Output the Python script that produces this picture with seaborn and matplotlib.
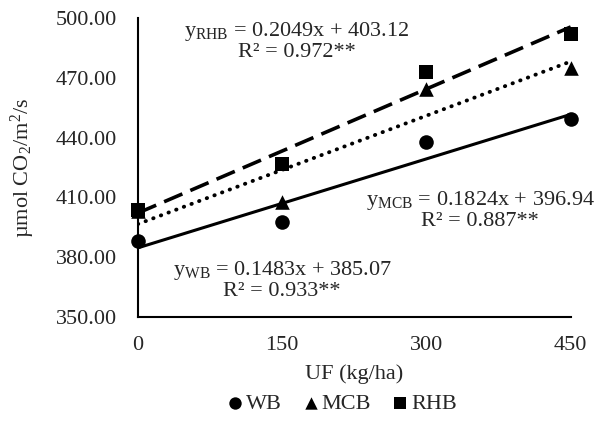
import numpy as np
import pandas as pd
import matplotlib.pyplot as plt
import seaborn as sns
sns.set_style('white')
plt.rcParams['font.family'] = ['Liberation Serif', 'DejaVu Serif']
plt.rcParams['mathtext.fontset'] = 'custom'
plt.rcParams['mathtext.rm'] = 'Liberation Serif'
plt.rcParams['mathtext.it'] = 'Liberation Serif:italic'

uf = [0, 150, 300, 450]
wb = [388.2, 397.5, 437.8, 449.1]
mcb = [403.0, 407.6, 464.2, 474.7]
rhb = [403.5, 426.9, 473.0, 491.8]
series = ['WB', 'MCB', 'RHB']
equations = ['y$_{\\mathregular{WB}}$ = 0.1483x + 385.07\nR² = 0.933**',
             'y$_{\\mathregular{MCB}}$ = 0.1824x + 396.94\nR² = 0.887**',
             'y$_{\\mathregular{RHB}}$ = 0.2049x + 403.12\nR² = 0.972**']

df = pd.DataFrame({'UF': uf * 3, 'rate': wb + mcb + rhb,
                   'group': [s for s in series for _ in uf]})

fig = plt.figure(figsize=(5.97, 4.25), dpi=100)
ax = fig.add_axes([0.231, 0.254, 0.725, 0.704])

markers = {'WB': 'o', 'MCB': '^', 'RHB': 's'}
styles = {'WB': dict(ls='-', lw=2.2),
          'MCB': dict(ls=(0, (0.1, 2.0)), lw=2.8, dash_capstyle='round'),
          'RHB': dict(ls=(0, (5.5, 2.4)), lw=2.6)}

for s in series:
    sub = df[df.group == s]
    sns.regplot(data=sub, x='UF', y='rate', ax=ax, scatter=False, ci=None,
                color='black', line_kws=styles[s])
for s in series:
    sub = df[df.group == s]
    sns.scatterplot(data=sub, x='UF', y='rate', ax=ax, marker=markers[s],
                    color='black', s=110, edgecolor='black', linewidth=0,
                    label=s, clip_on=False, zorder=5)

ax.set_xlim(0, 450)
ax.set_ylim(350, 500)
ax.set_xticks([0, 150, 300, 450])
ax.set_yticks([350, 380, 410, 440, 470, 500])
ax.set_yticklabels(['{:.2f}'.format(v) for v in [350, 380, 410, 440, 470, 500]])
ax.tick_params(axis='x', direction='in', length=5, width=1.3, labelsize=16, pad=14)
ax.tick_params(axis='y', direction='out', length=5, width=1.3, labelsize=16, pad=10)
for side in ['top', 'right']:
    ax.spines[side].set_visible(False)
for side in ['left', 'bottom']:
    ax.spines[side].set_linewidth(1.5)
    ax.spines[side].set_color('black')
ax.set_xlabel('UF (kg/ha)', fontsize=16, labelpad=6)
ax.set_ylabel('µmol CO$_2$/m$^2$/s', fontsize=16)
ax.yaxis.set_label_coords(-0.232, 0.5)

eq_pos = [(150, 368.5), (356, 403.8), (165, 488.5)]
for (x, y), txt in zip(eq_pos, equations):
    ax.text(x, y, txt, fontsize=16, ha='center', va='center', linespacing=1.0)

ax.legend(loc='center', bbox_to_anchor=(0.47, -0.29), ncol=3, frameon=False,
          fontsize=16, handlelength=0.8, handletextpad=0.1, columnspacing=0.9,
          markerscale=0.85)

fig.savefig('out.png', dpi=100)
